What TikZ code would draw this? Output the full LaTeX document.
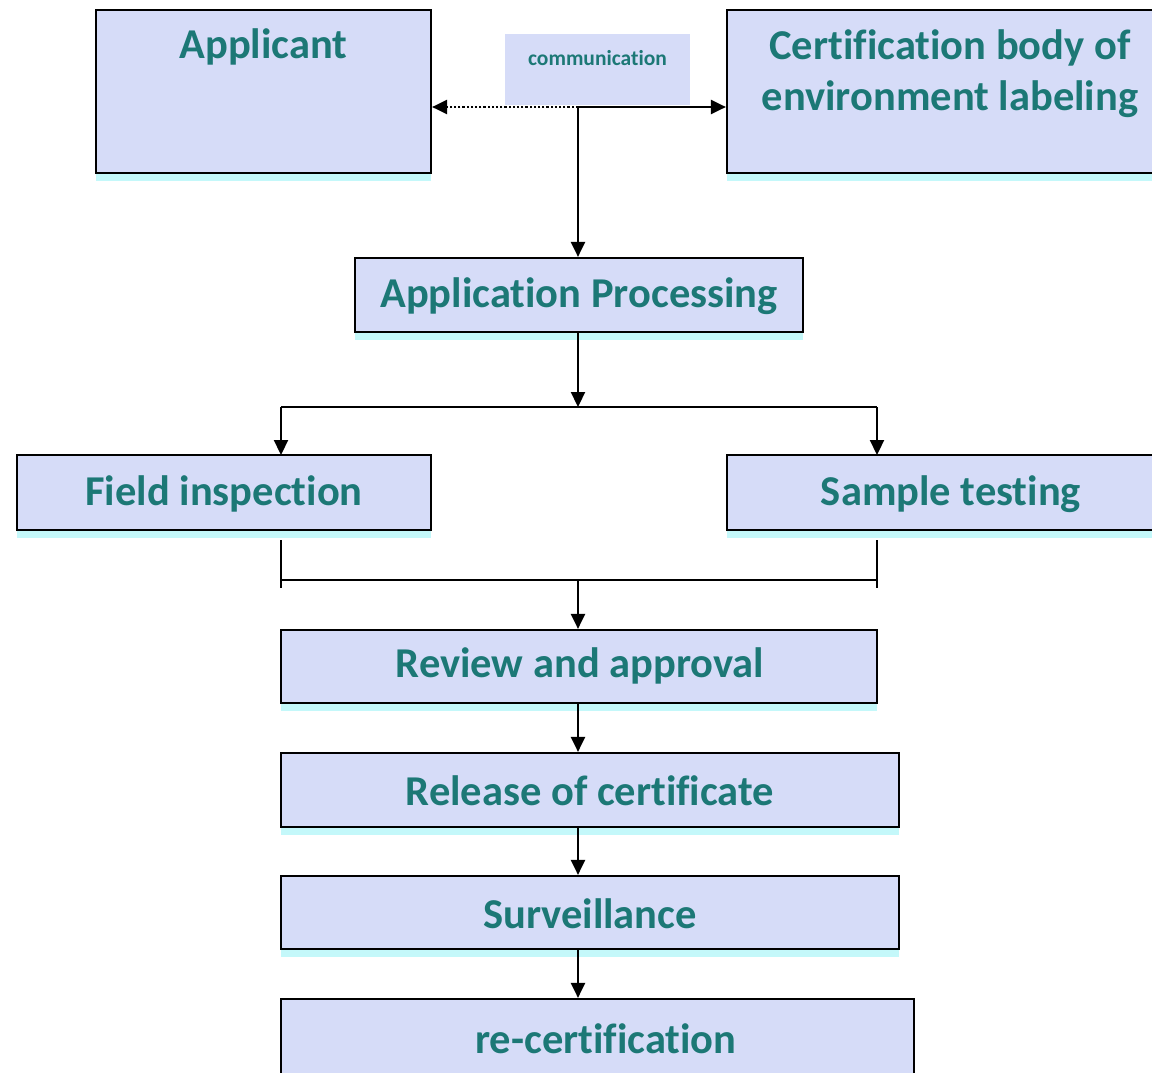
\documentclass[tikz,border=0pt]{standalone}
\usepackage{fontspec}
\setmainfont{Carlito}[Ligatures=NoCommon]
\usetikzlibrary{arrows.meta,shadows,calc}
\definecolor{boxfill}{RGB}{214,220,248}
\definecolor{txt}{RGB}{28,120,118}
\definecolor{glow}{RGB}{190,248,250}
\tikzset{
  box/.style={draw=black, line width=2.2pt, fill=boxfill, inner sep=0pt,
    drop shadow={shadow xshift=0pt, shadow yshift=-8pt, fill=glow, opacity=0.9}},
  lbl/.style={text=txt, font=\fontsize{42.5}{50}\selectfont\bfseries, inner sep=0pt},
  conn/.style={line width=2.2pt, -{Triangle[length=15pt,width=14pt]}},
  plain/.style={line width=2.2pt},
}
\begin{document}
\begin{tikzpicture}[x=1pt,y=-1pt]
\useasboundingbox (0,0) rectangle (1152,1072);
\fill[white] (0,0) rectangle (1152,1072);
\clip (0,0) rectangle (1152,1072);
% boxes
\node[box, minimum width=335pt, minimum height=163pt] (appl) at (263.5,91.5) {};
\node[lbl] (applt) at (263.5,47) {Applicant};
\node[box, minimum width=446pt, minimum height=163pt] (cert) at (950,91.5) {};
\node[lbl, align=center, font=\fontsize{42.5}{51}\selectfont\bfseries] (certt) at (950,74) {Certification body of\\environment labeling};
\node[fill=boxfill, minimum width=185pt, minimum height=71pt, inner sep=0pt] (comm) at (597.5,69.5) {};
\node[text=txt, font=\fontsize{21.5}{24}\selectfont\bfseries, inner sep=0pt] (commt) at (597.5,58) {communication};
\node[box, minimum width=448pt, minimum height=74pt] (proc) at (579,295) {};
\node[lbl] (proct) at (579,296) {Application Processing};
\node[box, minimum width=414pt, minimum height=75pt] (field) at (224,492.5) {};
\node[lbl] (fieldt) at (224,494) {Field inspection};
\node[box, minimum width=448pt, minimum height=75pt] (sample) at (951,492.5) {};
\node[lbl] (samplet) at (951,494) {Sample testing};
\node[box, minimum width=596pt, minimum height=73pt] (review) at (579,666.5) {};
\node[lbl] (reviewt) at (580,666) {Review and approval};
\node[box, minimum width=618pt, minimum height=74pt] (release) at (590,790) {};
\node[lbl] (releaset) at (590,791) {Release of certificate};
\node[box, minimum width=618pt, minimum height=73pt] (surv) at (590,912.5) {};
\node[lbl] (survt) at (590,914) {Surveillance};
\node[box, minimum width=633pt, minimum height=100pt] (recert) at (597.5,1049) {};
\node[lbl] (recertt) at (606,1039) {re-certification};
% connectors
\coordinate (j0) at (578,107);
\draw[line width=2.2pt, dotted, -{Triangle[length=15pt,width=14pt]}] (j0) -- (appl.east |- j0);
\draw[conn] (j0) -- (cert.west |- j0);
\draw[conn] (j0) -- (j0 |- proc.north);
\coordinate (j1) at (578,407);
\draw[conn] (proc.south -| j1) -- (j1);
\draw[plain] (281,407) -- (877,407);
\draw[conn] (281,407) -- (281,455);
\draw[conn] (877,407) -- (877,455);
\coordinate (f1) at (281,540);
\coordinate (f2) at (281,588);
\coordinate (s1) at (877,540);
\coordinate (s2) at (877,588);
\coordinate (j2) at (578,580);
\draw[plain] (f1) -- (f2);
\draw[plain] (s1) -- (s2);
\draw[plain] (f1 |- j2) -- (s1 |- j2);
\draw[conn] (j2) -- (j2 |- review.north);
\draw[conn] (j2 |- review.south) -- (j2 |- release.north);
\draw[conn] (j2 |- release.south) -- (j2 |- surv.north);
\draw[conn] (j2 |- surv.south) -- (j2 |- recert.north);
\end{tikzpicture}
\end{document}
